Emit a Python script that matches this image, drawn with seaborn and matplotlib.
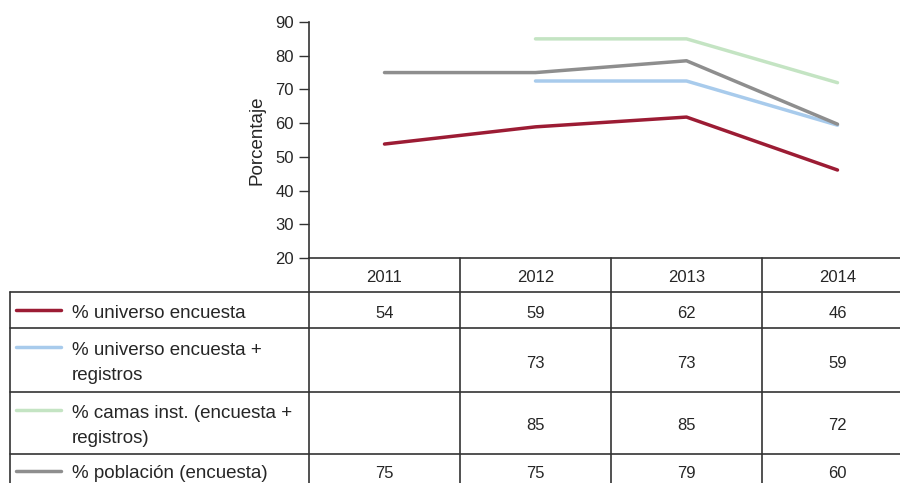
import numpy as np
import pandas as pd
import matplotlib
matplotlib.use("Agg")
import matplotlib.pyplot as plt
import matplotlib.transforms as mtransforms
from matplotlib.lines import Line2D
import seaborn as sns

# data
years = [2011, 2012, 2013, 2014]
series_names = ["% universo encuesta",
                "% universo encuesta +\nregistros",
                "% camas inst. (encuesta +\nregistros)",
                "% población (encuesta)"]
universo = [53.8, 58.9, 61.8, 46.1]
universo_reg = [np.nan, 72.5, 72.5, 59.4]
camas = [np.nan, 85.0, 85.0, 72.0]
poblacion = [75.0, 75.0, 78.5, 59.7]
# values printed in the data table
table_universo = ["54", "59", "62", "46"]
table_universo_reg = ["", "73", "73", "59"]
table_camas = ["", "85", "85", "72"]
table_poblacion = ["75", "75", "79", "60"]
colors = ["#9c1c34", "#a8cbec", "#c4e4c3", "#8e8e8e"]

sns.set_style("white")
plt.rcParams["font.family"] = ["Liberation Sans", "DejaVu Sans"]

rows = []
for name, vals in zip(series_names, [universo, universo_reg, camas, poblacion]):
    for y, v in zip(years, vals):
        rows.append({"year": y, "value": v, "serie": name})
df = pd.DataFrame(rows)

W, H = 900, 483
fig = plt.figure(figsize=(W / 100, H / 100), dpi=100)
def fx(px): return px / W
def fy(py): return 1 - py / H

txt = "#262626"
num_size = 12
ax = fig.add_axes([fx(309), fy(258), fx(913) - fx(309), fy(22) - fy(258)])
sns.lineplot(data=df, x="year", y="value", hue="serie", palette=colors,
             linewidth=2.5, legend=False, ax=ax, solid_capstyle="round")
ax.set_xlim(2010.5, 2014.5)
ax.set_ylim(20, 90)
ax.set_yticks(range(20, 91, 10))
ax.set_xticks([])
ax.set_xlabel("")
ax.set_ylabel("Porcentaje", fontsize=13.5, color=txt, labelpad=7)
ax.tick_params(axis="y", direction="out", length=7, width=1, colors="#333333",
               labelcolor=txt, labelsize=num_size, pad=4, left=True)
for s in ["top", "right"]:
    ax.spines[s].set_visible(False)
for s in ["left", "bottom"]:
    ax.spines[s].set_color("#333333")
    ax.spines[s].set_linewidth(1.2)

# data table under the chart
lc = "#333333"
row_edges = [257, 292, 328, 392, 454, 487]
for py in row_edges[1:]:
    fig.add_artist(Line2D([fx(10), fx(913)], [fy(py), fy(py)], color=lc, lw=1.2))
fig.add_artist(Line2D([fx(10), fx(10)], [fy(292), fy(495)], color=lc, lw=1.2))
blend = mtransforms.blended_transform_factory(ax.transData, fig.transFigure)
for b in [2010.5, 2011.5, 2012.5, 2013.5]:
    ax.plot([b, b], [fy(258), fy(495)], transform=blend, color=lc, lw=1.2, clip_on=False)

off = 3  # text sits a little below the cell centre
for y in years:
    ax.text(y, fy((row_edges[0] + row_edges[1]) / 2 + off), str(y), transform=blend,
            ha="center", va="center", fontsize=num_size, color=txt)

tables = [table_universo, table_universo_reg, table_camas, table_poblacion]
for i, (name, col, labels) in enumerate(zip(series_names, colors, tables)):
    yc_px = (row_edges[i + 1] + row_edges[i + 2]) / 2 + off
    yc = fy(yc_px)
    # legend key sits level with the first line of the label
    key_px = yc_px - 3 - (13 if "\n" in name else 0)
    fig.add_artist(Line2D([fx(16), fx(61)], [fy(key_px), fy(key_px)], color=col,
                          lw=2.5, solid_capstyle="round"))
    fig.text(fx(72), yc, name, ha="left", va="center", fontsize=13.5,
             color=txt, linespacing=1.6)
    for y, lab in zip(years, labels):
        ax.text(y, yc, lab, transform=blend, ha="center", va="center",
                fontsize=num_size, color=txt)

fig.savefig("out.png", dpi=100)
